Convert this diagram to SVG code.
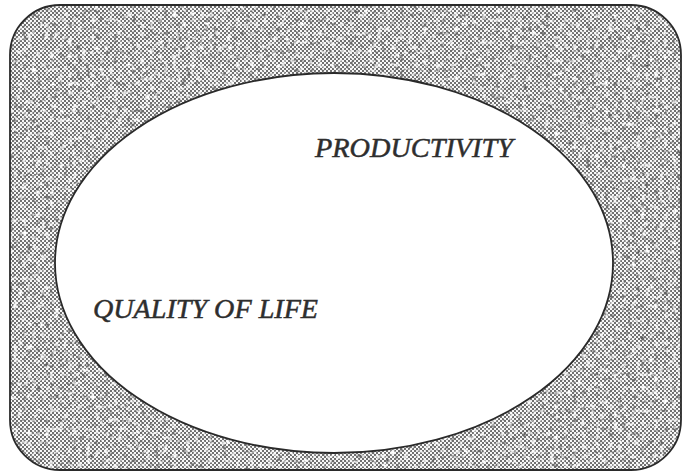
<svg xmlns="http://www.w3.org/2000/svg" width="684" height="474" viewBox="0 0 684 474">
<style>
.label{font-family:"Liberation Serif","Times New Roman",serif;font-style:italic;font-size:28px;fill:#2e2e2e;stroke:#2e2e2e;stroke-width:0.5}
.edge{stroke:#2a2a2a;stroke-width:1.8}
</style>
<defs>
<pattern id="dots" width="4" height="4" patternUnits="userSpaceOnUse">
<rect width="4" height="4" fill="#f8f8f8"/>
<rect x="0" y="0" width="2" height="2" fill="#707070"/>
<rect x="2" y="2" width="2" height="2" fill="#707070"/>
</pattern>
<filter id="speckle" x="0" y="0" width="100%" height="100%">
<feTurbulence type="fractalNoise" baseFrequency="0.22" numOctaves="2" seed="7" result="n"/>
<feColorMatrix in="n" type="matrix" values="0 0 0 0 0.12  0 0 0 0 0.12  0 0 0 0 0.12  3.4 0 0 0 -1.9" result="dark"/>
<feColorMatrix in="n" type="matrix" values="0 0 0 0 1  0 0 0 0 1  0 0 0 0 1  0 -3.4 0 0 1.6" result="light"/>
<feMerge result="m"><feMergeNode in="dark"/><feMergeNode in="light"/></feMerge>
<feComposite in="m" in2="SourceGraphic" operator="in"/>
</filter>
</defs>
<g id="frame">
<rect x="10" y="5" width="671" height="465" rx="50" fill="url(#dots)"/>
<rect x="10" y="5" width="671" height="465" rx="50" fill="#000" filter="url(#speckle)"/>
<rect x="10" y="5" width="671" height="465" rx="50" fill="none" class="edge"/>
</g>
<g id="field">
<ellipse cx="334" cy="263" rx="279" ry="190" fill="#fff" class="edge"/>
</g>
<g id="productivity">
<text class="label" x="315" y="157" textLength="198" lengthAdjust="spacingAndGlyphs">PRODUCTIVITY</text>
</g>
<g id="quality-of-life">
<text class="label" x="93" y="318" textLength="225" lengthAdjust="spacingAndGlyphs">QUALITY OF LIFE</text>
</g>
<g id="connectors"/>
</svg>
